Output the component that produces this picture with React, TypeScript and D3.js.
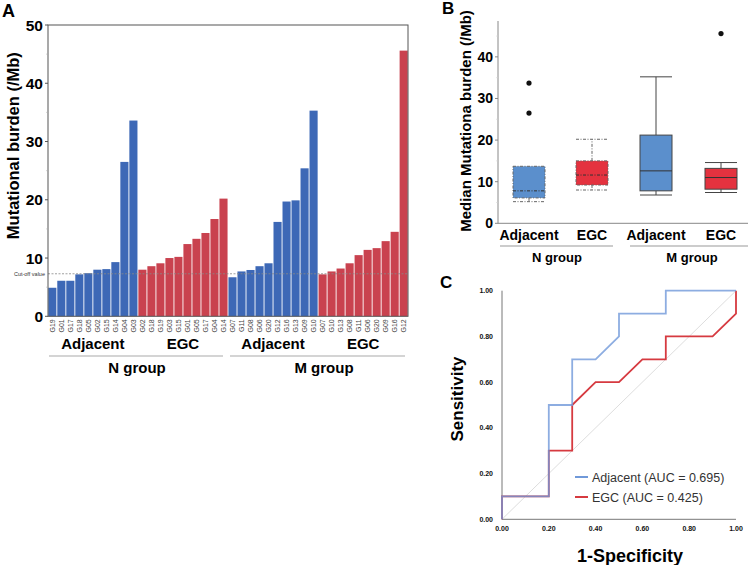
import React from "react";
import * as d3 from "d3";

// ---------- Panel A data ----------
const nAdjLabels = ["G19","G01","G17","G18","G05","G02","G15","G14","G04","G03"];
const nAdjValues = [4.9, 6.1, 6.1, 7.2, 7.4, 8.0, 8.1, 9.3, 26.5, 33.6];
const nEgcLabels = ["G02","G18","G19","G03","G15","G01","G05","G17","G04","G14"];
const nEgcValues = [8.0, 8.6, 9.1, 10.0, 10.2, 12.4, 13.3, 14.3, 16.7, 20.2];
const mAdjLabels = ["G07","G11","G08","G06","G20","G12","G16","G13","G09","G10"];
const mAdjValues = [6.7, 7.7, 7.95, 8.6, 9.1, 16.2, 19.7, 19.9, 25.4, 35.3];
const mEgcLabels = ["G07","G10","G13","G08","G11","G06","G20","G09","G16","G12"];
const mEgcValues = [7.2, 7.7, 8.2, 9.1, 10.5, 11.4, 11.7, 12.9, 14.5, 45.6];
const cutOff = 7.3;
const yTicksA = [0, 10, 20, 30, 40, 50];

// ---------- Panel B data ----------
const boxCategories = ["N-Adjacent", "N-EGC", "M-Adjacent", "M-EGC"];
const boxLabels = ["Adjacent", "EGC", "Adjacent", "EGC"];
const boxLow = [5.2, 8.0, 6.8, 7.4];
const boxQ1 = [6.1, 9.2, 7.8, 8.2];
const boxMedian = [7.8, 11.6, 12.6, 11.0];
const boxQ3 = [13.7, 15.0, 21.2, 13.2];
const boxHigh = [13.7, 20.2, 35.2, 14.6];
const boxOutliers = [[33.7, 26.5], [], [], [45.6]];
const yTicksB = [0, 10, 20, 30, 40];

// ---------- Panel C data ----------
const rocAdjX = [0, 0, 0.2, 0.2, 0.3, 0.3, 0.4, 0.5, 0.5, 0.7, 0.7, 1.0];
const rocAdjY = [0, 0.1, 0.1, 0.5, 0.5, 0.7, 0.7, 0.8, 0.9, 0.9, 1.0, 1.0];
const rocEgcX = [0, 0, 0.2, 0.2, 0.3, 0.3, 0.4, 0.5, 0.6, 0.7, 0.7, 0.9, 1.0, 1.0];
const rocEgcY = [0, 0.1, 0.1, 0.3, 0.3, 0.5, 0.6, 0.6, 0.7, 0.7, 0.8, 0.8, 0.9, 1.0];
const rocTicks = [0, 0.2, 0.4, 0.6, 0.8, 1.0];

const FONT = "Liberation Sans, Arial, sans-serif";
const BLUE_A = "#3d68b6";
const RED_A = "#c9424f";
const BLUE_B = "#5b8fcc";
const RED_B = "#e4323f";
const BLUE_C = "#7099d9";
const RED_C = "#d63a40";

function PanelA() {
  const left = 48, right = 408, top = 25, bottom = 316.3;
  const bars = [
    ...nAdjLabels.map((l, i) => ({ key: "na" + i, label: l, v: nAdjValues[i], c: BLUE_A })),
    ...nEgcLabels.map((l, i) => ({ key: "ne" + i, label: l, v: nEgcValues[i], c: RED_A })),
    ...mAdjLabels.map((l, i) => ({ key: "ma" + i, label: l, v: mAdjValues[i], c: BLUE_A })),
    ...mEgcLabels.map((l, i) => ({ key: "me" + i, label: l, v: mEgcValues[i], c: RED_A })),
  ];
  const x = d3.scaleBand().domain(bars.map(b => b.key)).range([left, right]).paddingInner(0.1).paddingOuter(0.03);
  const y = d3.scaleLinear().domain([0, 50]).range([bottom, top]);
  const minor = d3.range(5, 50, 5).filter(v => v % 10 !== 0);
  const groupCenter = (start: number, n: number) => {
    const a = x(bars[start].key)!;
    const b = x(bars[start + n - 1].key)! + x.bandwidth();
    return (a + b) / 2;
  };
  return (
    <g>
      <text x={2} y={17} fontFamily={FONT} fontWeight="bold" fontSize={18}>A</text>
      <text transform={`translate(19,${(top + bottom) / 2 - 25}) rotate(-90)`} textAnchor="middle"
        fontFamily={FONT} fontWeight="bold" fontSize={16.5}>Mutational burden (/Mb)</text>
      {bars.map(b => (
        <rect key={b.key} x={x(b.key)} y={y(b.v)} width={x.bandwidth()} height={bottom - y(b.v)} fill={b.c} />
      ))}
      <line x1={left} x2={right} y1={y(cutOff)} y2={y(cutOff)} stroke="#888" strokeWidth={0.8} strokeDasharray="2,1.5" />
      <text x={45} y={y(cutOff) + 2} textAnchor="end" fontFamily={FONT} fontSize={5.5} fill="#333">Cut-off value</text>
      <rect x={left} y={top} width={right - left} height={bottom - top} fill="none" stroke="#555" strokeWidth={1} />
      {yTicksA.map(t => (
        <g key={t}>
          <line x1={left - 3} x2={left} y1={y(t)} y2={y(t)} stroke="#555" />
          <text x={left - 5} y={y(t) + 5.5} textAnchor="end" fontFamily={FONT} fontWeight="bold" fontSize={15.5}>{t}</text>
        </g>
      ))}
      {minor.map(t => (
        <line key={t} x1={left - 1.5} x2={left} y1={y(t)} y2={y(t)} stroke="#aaa" />
      ))}
      {bars.map(b => (
        <text key={"l" + b.key} transform={`translate(${x(b.key)! + x.bandwidth() / 2 + 2.5},${bottom + 3}) rotate(-90)`}
          textAnchor="end" fontFamily={FONT} fontSize={7} fill="#444">{b.label}</text>
      ))}
      {[["Adjacent", 0], ["EGC", 10], ["Adjacent", 20], ["EGC", 30]].map(([t, s], i) => (
        <text key={i} x={groupCenter(s as number, 10)} y={349} textAnchor="middle" fontFamily={FONT} fontWeight="bold" fontSize={15}>{t}</text>
      ))}
      <line x1={49} x2={223} y1={356} y2={356} stroke="#aaa" strokeWidth={1.2} />
      <line x1={230} x2={405} y1={356} y2={356} stroke="#aaa" strokeWidth={1.2} />
      <text x={137} y={373} textAnchor="middle" fontFamily={FONT} fontWeight="bold" fontSize={15}>N group</text>
      <text x={324} y={373} textAnchor="middle" fontFamily={FONT} fontWeight="bold" fontSize={15}>M group</text>
    </g>
  );
}

function PanelB() {
  const left = 498, right = 748, bottom = 223.3;
  const y = d3.scaleLinear().domain([0, 48.5]).range([bottom, 21.5]);
  const centers = [529, 592, 656, 721];
  const x = d3.scaleOrdinal<string, number>().domain(boxCategories).range(centers);
  const bw = 32;
  const fills = [BLUE_B, RED_B, BLUE_B, RED_B];
  const minor = [5, 15, 25, 35, 45];
  return (
    <g>
      <text x={442} y={14} fontFamily={FONT} fontWeight="bold" fontSize={17}>B</text>
      <text transform={`translate(471,121) rotate(-90)`} textAnchor="middle" fontFamily={FONT} fontWeight="bold" fontSize={15}>Median Mutationa burden (/Mb)</text>
      <line x1={left} x2={left} y1={21} y2={bottom} stroke="#888" />
      <line x1={left} x2={right} y1={bottom} y2={bottom} stroke="#888" />
      {yTicksB.map(t => (
        <g key={t}>
          <line x1={left - 3} x2={left} y1={y(t)} y2={y(t)} stroke="#888" />
          <text x={493} y={y(t) + 5} textAnchor="end" fontFamily={FONT} fontWeight="bold" fontSize={14}>{t}</text>
        </g>
      ))}
      {minor.map(t => (
        <line key={t} x1={left - 1.5} x2={left} y1={y(t)} y2={y(t)} stroke="#ccc" />
      ))}
      {boxCategories.map((c, i) => {
        const cx = x(c);
        const dashed = i < 2;
        const dash = dashed ? "3,1.5,1,1.5" : undefined;
        const st = dashed ? "#666" : "#444";
        return (
          <g key={c}>
            {boxHigh[i] > boxQ3[i] && (
              <>
                <line x1={cx} x2={cx} y1={y(boxQ3[i])} y2={y(boxHigh[i])} stroke={st} strokeDasharray={dash} />
                <line x1={cx - bw / 2} x2={cx + bw / 2} y1={y(boxHigh[i])} y2={y(boxHigh[i])} stroke={st} strokeDasharray={dash} />
              </>
            )}
            <line x1={cx} x2={cx} y1={y(boxQ1[i])} y2={y(boxLow[i])} stroke={st} strokeDasharray={dash} />
            <line x1={cx - bw / 2} x2={cx + bw / 2} y1={y(boxLow[i])} y2={y(boxLow[i])} stroke={st} strokeDasharray={dash} />
            <rect x={cx - bw / 2} y={y(boxQ3[i])} width={bw} height={y(boxQ1[i]) - y(boxQ3[i])} fill={fills[i]} stroke={st} strokeDasharray={dash} />
            <line x1={cx - bw / 2} x2={cx + bw / 2} y1={y(boxMedian[i])} y2={y(boxMedian[i])} stroke="#333" strokeDasharray={dash} />
            {boxOutliers[i].map((o, j) => (
              <circle key={j} cx={cx} cy={y(o)} r={2.6} fill="#111" />
            ))}
            <text x={cx} y={240} textAnchor="middle" fontFamily={FONT} fontWeight="bold" fontSize={14}>{boxLabels[i]}</text>
          </g>
        );
      })}
      <line x1={500} x2={613} y1={246} y2={246} stroke="#999" />
      <line x1={630} x2={748} y1={246} y2={246} stroke="#999" />
      <text x={557} y={262} textAnchor="middle" fontFamily={FONT} fontWeight="bold" fontSize={13}>N group</text>
      <text x={692} y={262} textAnchor="middle" fontFamily={FONT} fontWeight="bold" fontSize={13}>M group</text>
    </g>
  );
}

function PanelC() {
  const x = d3.scaleLinear().domain([0, 1]).range([502, 736]);
  const y = d3.scaleLinear().domain([0, 1]).range([519.3, 290.7]);
  const line = d3.line<[number, number]>().x(d => x(d[0])).y(d => y(d[1]));
  const adj = rocAdjX.map((v, i) => [v, rocAdjY[i]] as [number, number]);
  const egc = rocEgcX.map((v, i) => [v, rocEgcY[i]] as [number, number]);
  return (
    <g>
      <text x={440} y={288} fontFamily={FONT} fontWeight="bold" fontSize={17}>C</text>
      <text transform={`translate(463,399) rotate(-90)`} textAnchor="middle" fontFamily={FONT} fontWeight="bold" fontSize={17}>Sensitivity</text>
      <text x={630} y={562} textAnchor="middle" fontFamily={FONT} fontWeight="bold" fontSize={18}>1-Specificity</text>
      <line x1={x(0)} x2={x(1)} y1={y(0)} y2={y(1)} stroke="#ddd" strokeWidth={1} />
      <line x1={x(0)} x2={x(0)} y1={y(0)} y2={y(1)} stroke="#777" />
      <line x1={x(0)} x2={x(1)} y1={y(0)} y2={y(0)} stroke="#777" />
      {rocTicks.map(t => (
        <g key={t}>
          <text x={493} y={y(t) + 2.5} textAnchor="end" fontFamily={FONT} fontWeight="bold" fontSize={7} fill="#111">{t.toFixed(2)}</text>
          <text x={x(t)} y={531} textAnchor="middle" fontFamily={FONT} fontWeight="bold" fontSize={7} fill="#111">{t.toFixed(2)}</text>
        </g>
      ))}
      <path d={line(egc)!} fill="none" stroke={RED_C} strokeWidth={1.8} />
      <path d={line(adj)!} fill="none" stroke={BLUE_C} strokeWidth={1.8} strokeOpacity={0.8} />
      <line x1={575} x2={588} y1={477} y2={477} stroke={BLUE_C} strokeWidth={2} />
      <line x1={575} x2={588} y1={497} y2={497} stroke={RED_C} strokeWidth={2} />
      <text x={592} y={481.5} fontFamily={FONT} fontSize={12.5} fill="#333">Adjacent (AUC = 0.695)</text>
      <text x={592} y={501.5} fontFamily={FONT} fontSize={12.5} fill="#333">EGC (AUC = 0.425)</text>
    </g>
  );
}

export default function App() {
  return (
    <div style={{ position: "absolute", left: 0, top: 0 }}>
      <svg width={749} height={565} viewBox="0 0 749 565" style={{ display: "block", background: "#fff" }}>
        <rect width={749} height={565} fill="#fff" />
        <PanelA />
        <PanelB />
        <PanelC />
      </svg>
    </div>
  );
}
